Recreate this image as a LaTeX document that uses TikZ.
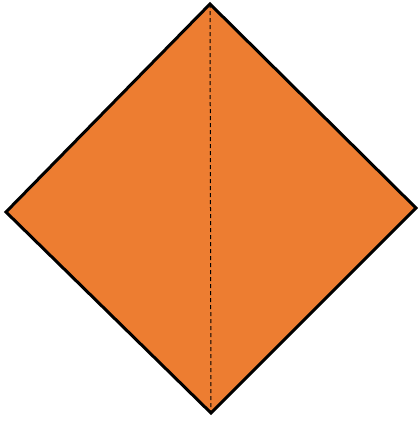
\documentclass[tikz,border=0pt]{standalone}
\definecolor{office}{HTML}{ED7D31}
\begin{document}
\begin{tikzpicture}[x=1pt,y=-1pt,
  kite/.style={fill=office,draw=black,line width=3pt,line join=miter},
  fold/.style={draw=black,line width=1pt,dash pattern=on 4pt off 3pt}]
\useasboundingbox (0,0) rectangle (418,421);
\coordinate (t) at (210,4);
\coordinate (l) at (6,212);
\coordinate (r) at (416,208);
\coordinate (b) at (211,413);
\draw[kite] (t) -- (r) -- (b) -- (l) -- cycle;
\draw[fold] (t) -- (b);
\end{tikzpicture}
\end{document}
